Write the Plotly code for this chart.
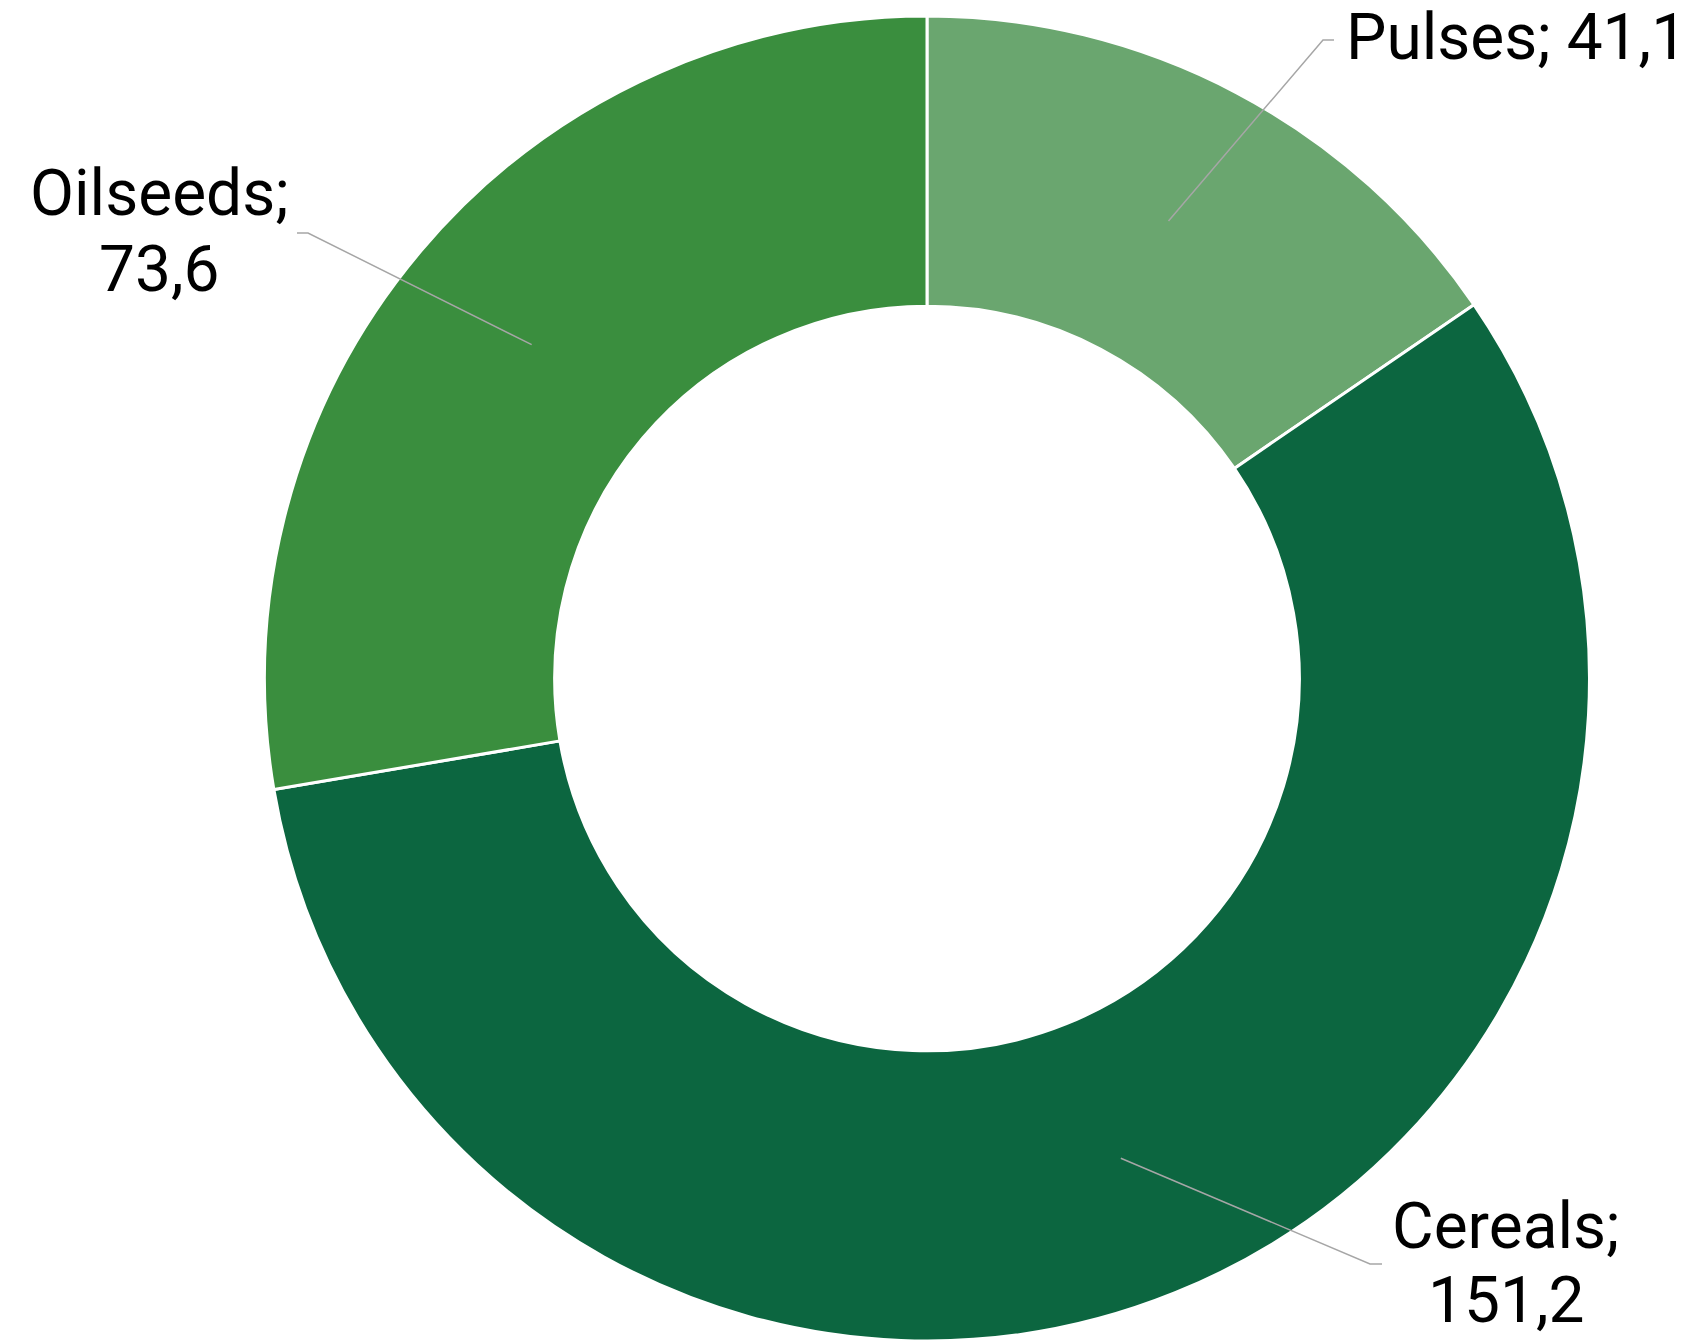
import math
import plotly.graph_objects as go

# ---- data ----
categories = ["Pulses", "Cereals", "Oilseeds"]
values = [41.1, 151.2, 73.6]
value_labels = ["41,1", "151,2", "73,6"]
colors = ["#6AA66F", "#0C6640", "#3A8E3E"]

# ---- layout constants (pixels) ----
W, H = 1690, 1341
CX, CY = 927.0, 678.5
R_OUT = 662.5
HOLE = 0.562
R_MID = R_OUT * (1 + HOLE) / 2
FONT = dict(family="Roboto", size=64, color="#000000")
LINE_COLOR = "#A6A6A6"

# label placement per category: elbow point, end of short horizontal tick,
# and text lines (x, y-middle, anchor) in pixels
label_layout = {
    "Pulses":   dict(elbow=(1323, 40), end=(1334, 40), split=False,
                     lines=[(1344, 37, "left")]),
    "Cereals":  dict(elbow=(1370, 1264), end=(1382, 1264), split=True,
                     lines=[(1506, 1226, "center"), (1506, 1300, "center")]),
    "Oilseeds": dict(elbow=(308, 233), end=(297, 233), split=True,
                     lines=[(159, 193, "center"), (159, 270, "center")]),
}


def px(x):
    return x / W


def py(y):
    return 1 - y / H


fig = go.Figure(go.Pie(
    labels=categories,
    values=values,
    hole=HOLE,
    sort=False,
    direction="clockwise",
    rotation=0,
    marker=dict(colors=colors, line=dict(color="#FFFFFF", width=3)),
    textinfo="none",
    hoverinfo="skip",
    showlegend=False,
    domain=dict(x=[(CX - R_OUT) / W, (CX + R_OUT) / W],
                y=[max(0.0, 1 - (CY + R_OUT) / H), 1 - (CY - R_OUT) / H]),
))

total = sum(values)
cum = 0.0
shapes = []
annotations = []
for cat, val, vlab in zip(categories, values, value_labels):
    mid = (cum + val / 2) / total * 2 * math.pi
    cum += val
    sx = CX + R_MID * math.sin(mid)
    sy = CY - R_MID * math.cos(mid)
    lay = label_layout[cat]
    ex, ey = lay["elbow"]
    tx, ty = lay["end"]
    path = (f"M {px(sx)} {py(sy)} L {px(ex)} {py(ey)} L {px(tx)} {py(ty)}")
    shapes.append(dict(type="path", path=path, xref="paper", yref="paper",
                       line=dict(color=LINE_COLOR, width=1.5)))
    texts = [f"{cat};", vlab] if lay["split"] else [f"{cat}; {vlab}"]
    for (lx, ly, anc), t in zip(lay["lines"], texts):
        annotations.append(dict(text=t, x=px(lx), y=py(ly), xref="paper",
                                yref="paper", xanchor=anc, yanchor="middle",
                                showarrow=False, font=FONT))

fig.update_layout(
    width=W, height=H,
    margin=dict(l=0, r=0, t=0, b=0),
    paper_bgcolor="#FFFFFF",
    plot_bgcolor="#FFFFFF",
    shapes=shapes,
    annotations=annotations,
)

fig.write_html(
    "out.html",
    config={"displayModeBar": False},
    post_script="document.body.style.margin='0';document.body.style.overflow='hidden';",
)
